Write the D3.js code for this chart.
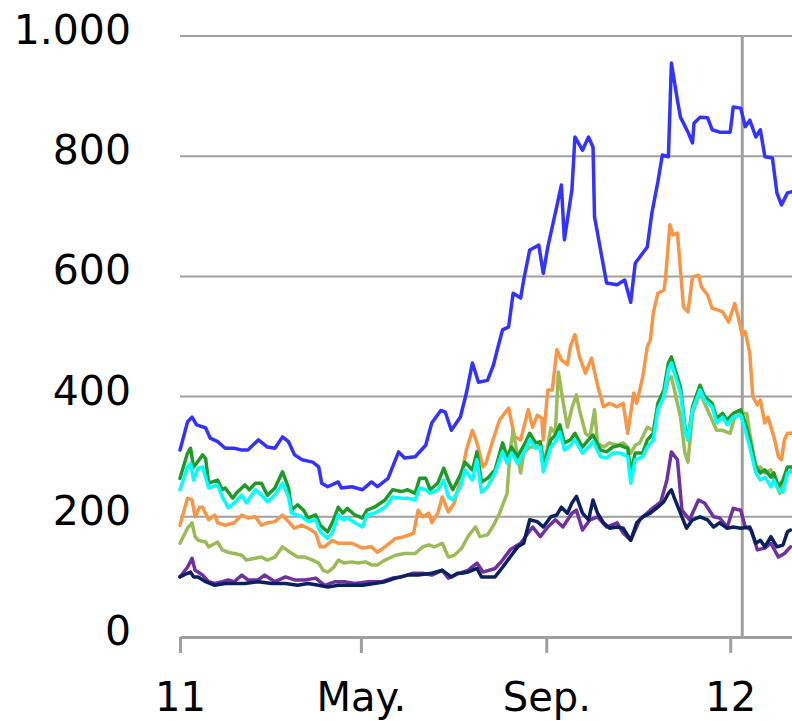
<!DOCTYPE html>
<html>
<head>
<meta charset="utf-8">
<script src="https://cdn.jsdelivr.net/npm/d3@7"></script>
<style>
  html, body { margin: 0; padding: 0; background: #fff; }
  svg { display: block; }
  .tick-label { font-family: "DejaVu Sans", Verdana, sans-serif; font-size: 40px; fill: #000; }
  .y-label { font-size: 41px; }
  .grid-line { stroke: #a0a0a0; stroke-width: 2; }
  .series { fill: none; stroke-width: 3.5; stroke-linejoin: round; stroke-linecap: round; }
</style>
</head>
<body>
<svg id="chart" width="792" height="721"></svg>
<script>
(function () {
  // day offsets from 1 Jan 2011, value pairs
  const startDate = new Date(2011, 0, 1);

  const blueValues = [[0,311],[5,358],[8,366],[11,353],[17,348],[20,331],[25,325],[30,314],[36,314],[41,311],[45,311],[52,328],[58,316],[63,314],[68,333],[72,325],[76,303],[81,295],[88,291],[92,283],[94,256],[98,250],[105,258],[107,248],[114,250],[121,245],[127,258],[131,250],[138,264],[145,308],[149,298],[156,300],[163,319],[167,356],[173,377],[176,374],[180,344],[186,366],[190,406],[194,456],[198,424],[204,427],[208,453],[211,483],[214,511],[218,516],[221,572],[226,564],[228,594],[232,644],[238,652],[241,605],[244,649],[248,694],[253,752],[255,661],[260,744],[262,832],[267,810],[271,832],[274,815],[275,699],[279,644],[283,589],[290,586],[295,594],[299,557],[302,622],[310,649],[313,705],[317,757],[320,802],[324,799],[326,955],[330,893],[332,865],[337,840],[340,822],[341,855],[345,865],[350,864],[353,844],[358,840],[365,840],[367,882],[372,880],[375,849],[378,860],[382,832],[385,844],[388,799],[393,797],[396,739],[399,719],[403,739],[406,741]];

  const orangeValues = [[0,186],[5,231],[8,228],[10,200],[13,216],[15,216],[19,195],[23,203],[25,190],[30,186],[36,190],[41,203],[45,198],[50,200],[54,186],[58,190],[63,192],[68,203],[72,192],[76,181],[81,186],[85,181],[90,173],[93,150],[96,150],[101,161],[105,156],[109,156],[114,156],[121,148],[127,150],[131,141],[136,150],[143,164],[149,167],[155,173],[158,211],[161,200],[165,206],[167,190],[171,206],[174,233],[178,208],[182,223],[187,273],[190,311],[194,344],[197,323],[201,283],[203,289],[207,323],[212,361],[218,381],[222,333],[226,328],[231,378],[234,349],[237,369],[240,364],[241,328],[244,411],[247,411],[250,478],[253,461],[257,453],[259,483],[262,503],[265,466],[269,439],[273,464],[277,419],[281,383],[285,389],[290,383],[294,389],[297,339],[301,406],[303,389],[307,433],[310,483],[312,494],[314,539],[317,572],[321,577],[322,594],[325,686],[327,669],[330,672],[332,611],[334,549],[337,541],[340,599],[344,602],[346,582],[350,569],[353,547],[357,544],[360,541],[364,524],[368,555],[370,536],[373,502],[375,508],[378,472],[380,400],[383,386],[385,394],[388,356],[390,366],[394,333],[397,300],[399,295],[401,328],[403,339],[406,339]];

  const oliveValues = [[0,156],[5,181],[8,190],[10,167],[12,161],[17,158],[19,150],[25,158],[28,145],[32,141],[36,139],[41,136],[44,128],[50,131],[54,133],[58,128],[63,133],[68,150],[73,141],[78,133],[83,133],[88,128],[92,123],[95,111],[98,108],[102,116],[105,128],[109,123],[114,125],[118,123],[123,125],[127,120],[131,120],[136,128],[143,136],[149,139],[156,139],[161,150],[165,153],[169,150],[174,156],[178,133],[182,136],[187,148],[191,167],[196,183],[199,167],[204,170],[208,186],[212,206],[217,239],[219,311],[221,344],[224,300],[226,273],[228,306],[232,316],[237,316],[239,323],[242,289],[246,348],[249,339],[251,441],[254,394],[257,349],[260,381],[263,403],[265,378],[269,339],[272,333],[275,378],[277,323],[281,316],[285,323],[290,319],[294,323],[297,316],[299,306],[302,319],[305,323],[310,349],[314,344],[317,383],[321,400],[324,428],[326,433],[328,411],[332,366],[335,306],[337,291],[340,372],[345,406],[348,389],[353,361],[356,344],[360,344],[365,339],[368,366],[373,372],[376,372],[378,339],[382,283],[385,283],[388,273],[392,278],[395,256],[398,239],[401,266],[406,278]];

  const greenValues = [[0,264],[5,306],[7,314],[9,283],[11,289],[15,303],[17,297],[19,256],[25,261],[28,245],[30,248],[35,231],[38,241],[43,253],[46,245],[50,256],[54,256],[58,236],[63,248],[68,275],[72,248],[74,211],[78,220],[82,211],[85,198],[90,203],[93,186],[98,175],[101,190],[105,216],[108,206],[111,214],[116,203],[121,198],[124,211],[129,216],[136,228],[141,245],[147,242],[151,245],[156,239],[159,264],[163,264],[166,245],[171,256],[175,281],[178,261],[181,245],[186,270],[189,291],[194,278],[197,308],[200,258],[204,264],[209,278],[214,323],[217,300],[220,316],[224,300],[229,323],[232,339],[236,323],[239,325],[241,283],[246,328],[249,336],[252,353],[255,323],[259,328],[262,339],[267,316],[271,328],[274,336],[279,311],[283,308],[287,316],[292,319],[297,314],[299,273],[302,306],[307,306],[310,328],[314,339],[317,389],[321,411],[324,456],[326,466],[328,449],[332,416],[335,349],[337,328],[340,383],[345,419],[348,400],[353,389],[356,364],[360,372],[363,361],[367,372],[372,378],[375,356],[378,328],[382,283],[385,273],[388,278],[392,266],[394,273],[397,250],[400,261],[403,283],[406,283]];

  const cyanValues = [[0,245],[5,283],[7,289],[9,261],[12,281],[15,283],[19,248],[25,253],[28,233],[32,215],[36,223],[41,236],[44,223],[50,245],[54,236],[58,225],[63,236],[68,256],[72,233],[74,206],[81,200],[85,192],[90,195],[93,175],[98,164],[101,173],[105,203],[108,195],[111,198],[116,190],[121,183],[124,203],[129,206],[136,216],[141,233],[147,231],[151,231],[156,228],[159,248],[163,245],[166,239],[171,245],[175,261],[178,233],[181,228],[186,250],[189,278],[194,261],[197,295],[200,241],[204,250],[209,273],[214,308],[217,289],[220,306],[224,289],[229,311],[232,328],[236,314],[239,316],[241,275],[246,316],[249,325],[252,341],[255,311],[259,319],[262,328],[267,306],[271,316],[274,325],[279,300],[283,298],[287,306],[292,306],[297,300],[299,256],[302,295],[307,300],[310,316],[314,328],[317,378],[321,400],[324,444],[326,456],[328,439],[332,406],[335,344],[337,328],[340,378],[345,411],[348,394],[353,383],[356,356],[360,366],[363,353],[367,366],[372,369],[375,344],[378,316],[382,273],[385,261],[388,266],[392,250],[394,261],[397,245],[400,241],[403,273],[406,275]];

  const purpleValues = [[0,100],[5,116],[8,131],[10,111],[15,103],[19,92],[23,89],[28,92],[32,95],[36,92],[41,103],[45,95],[52,95],[56,103],[63,92],[70,100],[76,95],[83,95],[90,98],[96,86],[103,92],[109,92],[116,89],[125,92],[134,92],[141,98],[147,100],[154,106],[161,106],[167,103],[174,111],[178,98],[185,106],[191,111],[197,123],[201,108],[209,114],[214,128],[219,145],[226,156],[231,173],[234,183],[239,167],[244,183],[249,195],[254,183],[260,206],[263,211],[267,178],[272,195],[277,200],[283,183],[290,190],[294,173],[299,161],[305,195],[312,211],[319,225],[323,261],[326,308],[330,295],[333,211],[338,195],[344,228],[348,223],[354,200],[358,198],[363,183],[367,214],[372,211],[375,183],[379,178],[383,145],[388,148],[392,156],[397,133],[401,139],[405,150]];

  const navyValues = [[0,100],[5,106],[7,108],[9,100],[12,100],[17,92],[23,86],[30,89],[36,89],[43,89],[52,92],[61,89],[70,89],[78,86],[85,89],[92,86],[98,83],[105,86],[111,86],[121,86],[129,89],[136,92],[143,98],[151,103],[158,103],[167,106],[174,111],[180,100],[184,106],[187,106],[191,108],[197,114],[200,100],[209,100],[214,116],[219,133],[224,150],[228,156],[232,195],[237,192],[241,183],[246,200],[250,203],[253,216],[257,206],[260,223],[263,234],[267,206],[271,195],[274,228],[277,206],[281,190],[285,181],[290,183],[294,181],[299,161],[303,190],[307,200],[312,206],[317,216],[321,225],[324,239],[326,245],[328,231],[332,206],[336,181],[340,195],[345,200],[350,195],[354,183],[358,190],[363,181],[367,183],[372,181],[378,183],[382,156],[385,161],[388,150],[392,167],[396,150],[400,153],[403,175],[405,178]];

  // drawing order: later ones sit on top
  const seriesList = [
    { name: "blue", color: "#3333ff", values: blueValues },
    { name: "orange", color: "#f79646", values: orangeValues },
    { name: "olive", color: "#9bbb59", values: oliveValues },
    { name: "green", color: "#1f9a2a", values: greenValues },
    { name: "cyan", color: "#00ffff", values: cyanValues },
    { name: "purple", color: "#7030a0", values: purpleValues },
    { name: "navy", color: "#0a2060", values: navyValues }
  ];

  const yTicks = [0, 200, 400, 600, 800, 1000];
  const yTickLabels = ["0", "200", "400", "600", "800", "1.000"];
  const xTicks = [new Date(2011, 0, 1), new Date(2011, 4, 1), new Date(2011, 8, 1), new Date(2012, 0, 1)];
  const xTickLabels = ["11", "May.", "Sep.", "12"];
  const markerDate = new Date(2012, 0, 9);
  const endDate = new Date(2012, 1, 11);

  const svg = d3.select("#chart");
  const plot = { left: 180, right: 792, top: 36, bottom: 637 };

  const x = d3.scaleTime().domain([startDate, endDate]).range([plot.left, plot.right]);
  const y = d3.scaleLinear().domain([0, 1000]).range([plot.bottom, plot.top]);

  const toDate = (day) => d3.timeDay.offset(startDate, day);

  // horizontal grid
  svg.append("g")
    .selectAll("line")
    .data(yTicks.filter((v) => v > 0))
    .join("line")
    .attr("class", "grid-line")
    .attr("x1", plot.left)
    .attr("x2", plot.right)
    .attr("y1", (v) => y(v))
    .attr("y2", (v) => y(v));

  // y labels
  svg.append("g")
    .selectAll("text")
    .data(yTicks)
    .join("text")
    .attr("class", "tick-label y-label")
    .attr("text-anchor", "end")
    .attr("x", 131)
    .attr("y", (v) => y(v) + 8)
    .text((v, i) => yTickLabels[i]);

  // vertical marker line
  svg.append("line")
    .attr("x1", x(markerDate))
    .attr("x2", x(markerDate))
    .attr("y1", plot.top)
    .attr("y2", plot.bottom)
    .attr("stroke", "#a0a0a0")
    .attr("stroke-width", 3);

  const line = d3.line()
    .x((d) => x(toDate(d[0])))
    .y((d) => y(d[1]));

  svg.append("g")
    .selectAll("path")
    .data(seriesList)
    .join("path")
    .attr("class", "series")
    .attr("stroke", (s) => s.color)
    .attr("d", (s) => line(s.values));

  // x axis
  const xAxis = d3.axisBottom(x)
    .tickValues(xTicks)
    .tickSize(16)
    .tickSizeOuter(0)
    .tickPadding(30)
    .tickFormat((d, i) => xTickLabels[i]);

  const axisGroup = svg.append("g")
    .attr("transform", `translate(0,${plot.bottom})`)
    .call(xAxis);

  axisGroup.select(".domain")
    .attr("stroke", "#a0a0a0")
    .attr("stroke-width", 3);
  axisGroup.selectAll(".tick line")
    .attr("stroke", "#a0a0a0")
    .attr("stroke-width", 3);
  axisGroup.selectAll(".tick text")
    .attr("class", "tick-label")
    .attr("font-family", null)
    .attr("font-size", null);
})();
</script>
</body>
</html>
